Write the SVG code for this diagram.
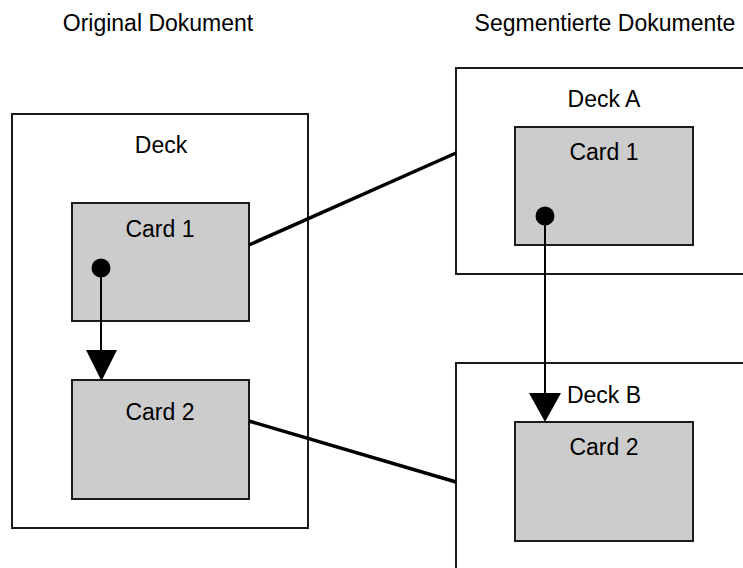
<svg xmlns="http://www.w3.org/2000/svg" width="743" height="568" viewBox="0 0 743 568">
<style>
text{font-family:"Liberation Sans",Arial,sans-serif;font-size:23px;fill:#000;text-anchor:middle}
.deck{fill:#fff;stroke:#1a1a1a;stroke-width:2}
.card{fill:#cccccc;stroke:#1a1a1a;stroke-width:2}
.link{stroke:#000;stroke-width:3.5;fill:none}
.ref{stroke:#000;stroke-width:2;fill:none}
.dot{fill:#000}
.head{fill:#000}
</style>
<rect width="743" height="568" fill="#fff"/>
<text x="158" y="31">Original Dokument</text>
<text x="605" y="31">Segmentierte Dokumente</text>
<g id="deck">
<rect class="deck" x="12" y="114" width="296" height="414"/>
<text x="161" y="153">Deck</text>
</g>
<g id="deckA">
<rect class="deck" x="456" y="68" width="300" height="206"/>
<text x="604" y="107">Deck A</text>
</g>
<g id="deckB">
<rect class="deck" x="456" y="363" width="300" height="220"/>
<text x="604" y="403">Deck B</text>
</g>
<g id="card1">
<rect class="card" x="72" y="203" width="177" height="118"/>
<text x="160" y="237">Card 1</text>
<circle class="dot" cx="101" cy="268" r="9.5"/>
</g>
<g id="card2">
<rect class="card" x="72" y="380" width="177" height="119"/>
<text x="160" y="420">Card 2</text>
</g>
<g id="cardA1">
<rect class="card" x="515" y="127" width="178" height="118"/>
<text x="604" y="160">Card 1</text>
<circle class="dot" cx="545" cy="216" r="9.5"/>
</g>
<g id="cardB2">
<rect class="card" x="515" y="422" width="178" height="119"/>
<text x="604" y="455">Card 2</text>
</g>
<g id="connectors">
<line class="link" x1="249" y1="245" x2="456" y2="153"/>
<line class="link" x1="249" y1="421" x2="456" y2="482"/>
<line class="ref" x1="101" y1="268" x2="101" y2="352"/>
<polygon class="head" points="86,350 117,350 101.5,381"/>
<line class="ref" x1="545" y1="216" x2="545" y2="395"/>
<polygon class="head" points="529,393 561,393 545,422"/>
</g>
</svg>
